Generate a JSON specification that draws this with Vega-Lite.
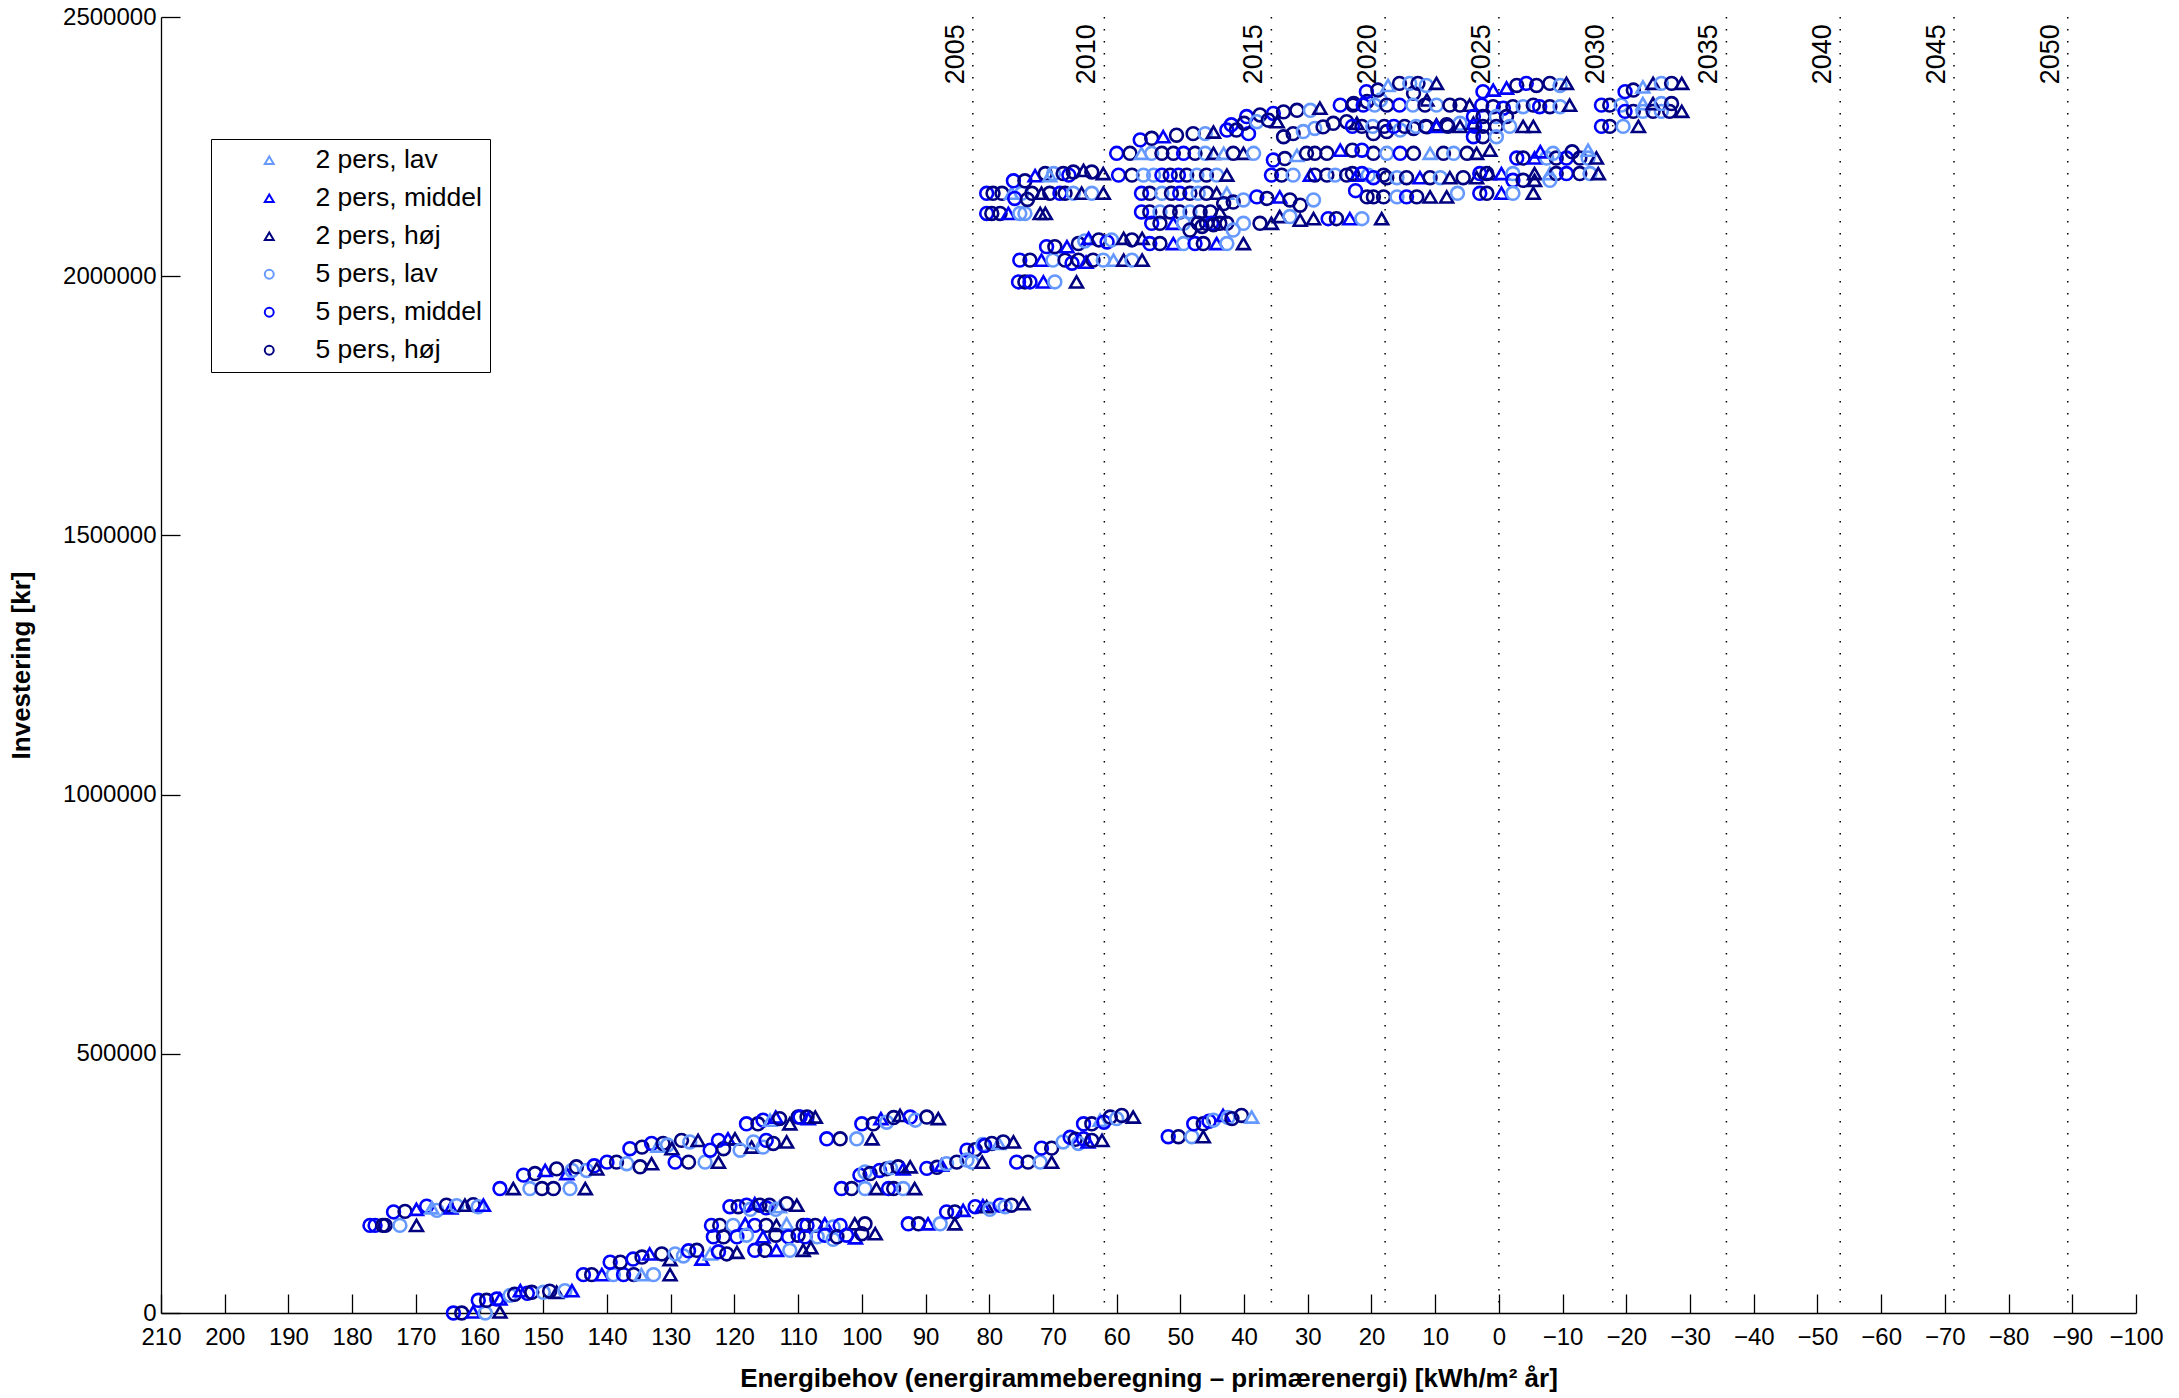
{
  "$schema": "https://vega.github.io/schema/vega-lite/v6.json",
  "width": 1975,
  "height": 1296,
  "autosize": {"type": "none"},
  "padding": {"left": 161, "top": 17, "right": 43, "bottom": 85},
  "background": "white",
  "config": {
    "view": {"stroke": null},
    "axis": {
      "domainColor": "black", "domainWidth": 1.3, "tickColor": "black", "tickWidth": 1.3, "tickSize": -19,
      "grid": false, "labelColor": "black", "titleColor": "black",
      "labelFont": "Liberation Sans", "labelFontSize": 24,
      "titleFont": "Liberation Sans", "titleFontSize": 26, "titleFontWeight": "bold",
      "labelOverlap": false, "labelFlush": false
    }
  },
  "datasets": {
    "years": [
      {"year": "2005", "x": 82.57}, {"year": "2010", "x": 61.93}, {"year": "2015", "x": 35.71},
      {"year": "2020", "x": 17.86}, {"year": "2025", "x": 0}, {"year": "2030", "x": -17.86},
      {"year": "2035", "x": -35.71}, {"year": "2040", "x": -53.57}, {"year": "2045", "x": -71.43},
      {"year": "2050", "x": -89.29}
    ],
    "pts": [
      {"x":177.2,"y":169000,"s":"5 pers, middel"},{"x":176.4,"y":169000,"s":"5 pers, middel"},{"x":175.2,"y":169000,"s":"5 pers, høj"},{"x":174.8,"y":169000,"s":"5 pers, høj"},{"x":172.5,"y":169000,"s":"5 pers, lav"},{"x":169.9,"y":169000,"s":"2 pers, høj"},
      {"x":173.5,"y":195000,"s":"5 pers, middel"},{"x":171.7,"y":196000,"s":"5 pers, høj"},{"x":169.9,"y":200000,"s":"2 pers, middel"},{"x":168.3,"y":206000,"s":"5 pers, middel"},{"x":167.5,"y":203000,"s":"2 pers, lav"},{"x":166.7,"y":198000,"s":"5 pers, lav"},{"x":165.2,"y":208000,"s":"5 pers, høj"},{"x":164.5,"y":203000,"s":"2 pers, middel"},{"x":163.6,"y":207000,"s":"5 pers, lav"},{"x":162.3,"y":208000,"s":"2 pers, høj"},{"x":161.0,"y":209000,"s":"5 pers, høj"},{"x":160.2,"y":205000,"s":"5 pers, lav"},{"x":159.4,"y":208000,"s":"2 pers, middel"},
      {"x":164.1,"y":0,"s":"5 pers, middel"},{"x":162.8,"y":0,"s":"5 pers, høj"},{"x":161.0,"y":2000,"s":"2 pers, middel"},{"x":159.1,"y":0,"s":"5 pers, lav"},{"x":156.8,"y":2000,"s":"2 pers, høj"},
      {"x":160.2,"y":24500,"s":"5 pers, middel"},{"x":158.9,"y":24500,"s":"5 pers, høj"},{"x":157.3,"y":27000,"s":"5 pers, middel"},{"x":156.8,"y":27000,"s":"2 pers, middel"},{"x":155.2,"y":34000,"s":"5 pers, lav"},{"x":154.5,"y":36000,"s":"5 pers, høj"},{"x":153.6,"y":43000,"s":"2 pers, middel"},{"x":152.5,"y":38000,"s":"5 pers, middel"},{"x":151.8,"y":40000,"s":"5 pers, høj"},{"x":150.0,"y":40000,"s":"5 pers, lav"},{"x":149.0,"y":42000,"s":"5 pers, høj"},{"x":147.9,"y":40000,"s":"2 pers, høj"},{"x":146.6,"y":43000,"s":"5 pers, lav"},{"x":145.5,"y":43000,"s":"2 pers, middel"},
      {"x":143.7,"y":74000,"s":"5 pers, middel"},{"x":142.4,"y":74000,"s":"5 pers, høj"},{"x":140.8,"y":74000,"s":"2 pers, middel"},{"x":139.0,"y":74000,"s":"5 pers, lav"},{"x":137.4,"y":74000,"s":"5 pers, middel"},{"x":135.8,"y":74000,"s":"5 pers, høj"},{"x":134.6,"y":74000,"s":"2 pers, lav"},{"x":132.7,"y":74000,"s":"5 pers, lav"},{"x":130.1,"y":74000,"s":"2 pers, høj"},
      {"x":139.5,"y":98000,"s":"5 pers, middel"},{"x":137.9,"y":98000,"s":"5 pers, høj"},{"x":135.9,"y":104000,"s":"5 pers, middel"},{"x":134.5,"y":108000,"s":"5 pers, høj"},{"x":133.3,"y":114000,"s":"2 pers, middel"},{"x":131.4,"y":114000,"s":"5 pers, høj"},{"x":130.1,"y":103000,"s":"2 pers, høj"},{"x":129.3,"y":114000,"s":"5 pers, lav"},{"x":128.0,"y":110000,"s":"5 pers, lav"},{"x":127.2,"y":120000,"s":"5 pers, middel"},{"x":125.9,"y":121000,"s":"5 pers, høj"},{"x":125.1,"y":104000,"s":"2 pers, middel"},{"x":123.8,"y":114000,"s":"2 pers, lav"},{"x":122.5,"y":118000,"s":"5 pers, middel"},{"x":121.2,"y":114000,"s":"5 pers, høj"},{"x":119.6,"y":117000,"s":"2 pers, høj"},
      {"x":156.8,"y":240000,"s":"5 pers, middel"},{"x":154.7,"y":240000,"s":"2 pers, høj"},{"x":152.1,"y":240000,"s":"5 pers, lav"},{"x":150.2,"y":240000,"s":"5 pers, høj"},{"x":148.4,"y":240000,"s":"5 pers, høj"},{"x":145.8,"y":240000,"s":"5 pers, lav"},{"x":143.4,"y":240000,"s":"2 pers, høj"},
      {"x":153.1,"y":266000,"s":"5 pers, middel"},{"x":151.3,"y":269000,"s":"5 pers, høj"},{"x":149.7,"y":275000,"s":"2 pers, middel"},{"x":147.9,"y":278000,"s":"5 pers, høj"},{"x":146.3,"y":269000,"s":"2 pers, middel"},{"x":145.5,"y":275000,"s":"5 pers, lav"},{"x":144.8,"y":282000,"s":"5 pers, høj"},{"x":143.2,"y":275000,"s":"5 pers, lav"},{"x":142.0,"y":284000,"s":"5 pers, middel"},{"x":141.6,"y":278000,"s":"2 pers, høj"},{"x":140.0,"y":291000,"s":"5 pers, middel"},{"x":138.5,"y":291000,"s":"5 pers, høj"},{"x":136.9,"y":288000,"s":"5 pers, lav"},{"x":134.8,"y":282000,"s":"5 pers, høj"},{"x":133.0,"y":288000,"s":"2 pers, høj"},
      {"x":136.4,"y":317000,"s":"5 pers, middel"},{"x":134.5,"y":320000,"s":"5 pers, høj"},{"x":133.0,"y":327000,"s":"5 pers, middel"},{"x":132.0,"y":322000,"s":"2 pers, lav"},{"x":131.2,"y":327000,"s":"5 pers, høj"},{"x":130.5,"y":324000,"s":"5 pers, lav"},{"x":129.8,"y":317000,"s":"2 pers, høj"},{"x":128.3,"y":333000,"s":"5 pers, høj"},{"x":127.0,"y":330000,"s":"5 pers, lav"},{"x":125.7,"y":333000,"s":"2 pers, høj"},
      {"x":129.3,"y":291000,"s":"5 pers, middel"},{"x":127.2,"y":291000,"s":"5 pers, høj"},{"x":124.6,"y":291000,"s":"5 pers, lav"},{"x":122.5,"y":291000,"s":"2 pers, høj"},
      {"x":123.8,"y":314000,"s":"5 pers, middel"},{"x":122.5,"y":333000,"s":"5 pers, middel"},{"x":121.7,"y":317000,"s":"5 pers, høj"},{"x":121.0,"y":336000,"s":"2 pers, middel"},{"x":119.9,"y":336000,"s":"2 pers, høj"},{"x":119.1,"y":314000,"s":"5 pers, lav"},{"x":117.3,"y":320000,"s":"2 pers, høj"},{"x":117.0,"y":330000,"s":"5 pers, lav"},{"x":115.5,"y":320000,"s":"5 pers, lav"},{"x":115.0,"y":333000,"s":"5 pers, middel"},{"x":113.9,"y":327000,"s":"5 pers, høj"},{"x":111.8,"y":330000,"s":"2 pers, høj"},
      {"x":118.1,"y":365000,"s":"5 pers, middel"},{"x":116.3,"y":365000,"s":"5 pers, høj"},{"x":115.5,"y":372000,"s":"5 pers, middel"},{"x":114.4,"y":372000,"s":"2 pers, lav"},{"x":113.5,"y":378000,"s":"2 pers, middel"},{"x":112.9,"y":375000,"s":"5 pers, høj"},{"x":111.3,"y":365000,"s":"2 pers, høj"},{"x":110.0,"y":378000,"s":"5 pers, høj"},{"x":109.7,"y":378000,"s":"5 pers, middel"},{"x":108.6,"y":378000,"s":"5 pers, høj"},{"x":108.4,"y":375000,"s":"2 pers, middel"},{"x":107.3,"y":378000,"s":"2 pers, høj"},
      {"x":105.5,"y":336000,"s":"5 pers, middel"},{"x":103.4,"y":336000,"s":"5 pers, høj"},{"x":100.8,"y":336000,"s":"5 pers, lav"},{"x":98.4,"y":336000,"s":"2 pers, høj"},
      {"x":100.0,"y":365000,"s":"5 pers, middel"},{"x":98.2,"y":365000,"s":"5 pers, høj"},{"x":97.0,"y":375000,"s":"2 pers, middel"},{"x":96.1,"y":368000,"s":"5 pers, lav"},{"x":95.0,"y":377000,"s":"5 pers, høj"},{"x":94.0,"y":381000,"s":"2 pers, høj"},{"x":92.4,"y":378000,"s":"5 pers, middel"},{"x":91.6,"y":372000,"s":"5 pers, lav"},{"x":89.8,"y":378000,"s":"5 pers, høj"},{"x":88.0,"y":375000,"s":"2 pers, høj"},
      {"x":83.5,"y":314000,"s":"5 pers, middel"},{"x":82.2,"y":315000,"s":"5 pers, høj"},{"x":81.0,"y":325000,"s":"5 pers, lav"},{"x":80.7,"y":323000,"s":"5 pers, middel"},{"x":79.6,"y":327000,"s":"5 pers, høj"},{"x":78.5,"y":327000,"s":"2 pers, lav"},{"x":77.8,"y":330000,"s":"5 pers, høj"},{"x":76.2,"y":330000,"s":"2 pers, høj"},
      {"x":82.7,"y":291000,"s":"5 pers, lav"},{"x":81.1,"y":291000,"s":"2 pers, høj"},{"x":75.7,"y":291000,"s":"5 pers, middel"},{"x":73.9,"y":291000,"s":"5 pers, høj"},{"x":72.0,"y":291000,"s":"5 pers, lav"},{"x":70.2,"y":291000,"s":"2 pers, høj"},
      {"x":89.8,"y":279000,"s":"5 pers, middel"},{"x":88.2,"y":281000,"s":"5 pers, høj"},{"x":87.5,"y":285000,"s":"2 pers, middel"},{"x":86.7,"y":288000,"s":"5 pers, lav"},{"x":85.1,"y":291000,"s":"5 pers, høj"},{"x":83.5,"y":295000,"s":"5 pers, lav"},
      {"x":100.3,"y":266000,"s":"5 pers, middel"},{"x":99.5,"y":272000,"s":"5 pers, lav"},{"x":98.7,"y":269000,"s":"5 pers, høj"},{"x":97.2,"y":275000,"s":"5 pers, middel"},{"x":96.1,"y":278000,"s":"5 pers, høj"},{"x":95.5,"y":280000,"s":"5 pers, lav"},{"x":94.3,"y":282000,"s":"5 pers, høj"},{"x":93.5,"y":278000,"s":"2 pers, middel"},{"x":92.4,"y":282000,"s":"2 pers, høj"},
      {"x":103.2,"y":240000,"s":"5 pers, middel"},{"x":101.6,"y":240000,"s":"5 pers, høj"},{"x":99.5,"y":240000,"s":"5 pers, lav"},{"x":97.7,"y":240000,"s":"2 pers, høj"},{"x":95.8,"y":240000,"s":"5 pers, middel"},{"x":95.0,"y":240000,"s":"5 pers, høj"},{"x":93.5,"y":240000,"s":"5 pers, lav"},{"x":91.7,"y":240000,"s":"2 pers, høj"},
      {"x":71.8,"y":318000,"s":"5 pers, middel"},{"x":70.2,"y":318000,"s":"5 pers, høj"},
      {"x":68.4,"y":330000,"s":"5 pers, lav"},{"x":67.3,"y":339000,"s":"5 pers, middel"},{"x":66.5,"y":335000,"s":"5 pers, høj"},{"x":66.0,"y":327000,"s":"5 pers, lav"},{"x":65.2,"y":336000,"s":"5 pers, middel"},{"x":64.5,"y":330000,"s":"2 pers, middel"},{"x":63.9,"y":333000,"s":"5 pers, høj"},{"x":62.3,"y":333000,"s":"2 pers, høj"},
      {"x":65.2,"y":365000,"s":"5 pers, middel"},{"x":63.9,"y":365000,"s":"5 pers, høj"},{"x":62.6,"y":372000,"s":"2 pers, lav"},{"x":62.0,"y":368000,"s":"5 pers, middel"},{"x":61.0,"y":378000,"s":"5 pers, høj"},{"x":60.0,"y":375000,"s":"5 pers, lav"},{"x":59.2,"y":381000,"s":"5 pers, høj"},{"x":57.4,"y":378000,"s":"2 pers, høj"},
      {"x":51.9,"y":340000,"s":"5 pers, middel"},{"x":50.3,"y":340000,"s":"5 pers, høj"},{"x":48.2,"y":340000,"s":"5 pers, lav"},{"x":46.4,"y":340000,"s":"2 pers, høj"},
      {"x":47.9,"y":365000,"s":"5 pers, middel"},{"x":46.4,"y":365000,"s":"5 pers, høj"},{"x":45.5,"y":370000,"s":"5 pers, middel"},{"x":44.8,"y":372000,"s":"5 pers, lav"},{"x":43.3,"y":381000,"s":"2 pers, middel"},{"x":42.5,"y":377000,"s":"5 pers, lav"},{"x":41.9,"y":375000,"s":"5 pers, høj"},{"x":40.4,"y":381000,"s":"5 pers, høj"},{"x":38.8,"y":378000,"s":"2 pers, lav"},
      {"x":92.7,"y":172000,"s":"5 pers, middel"},{"x":91.1,"y":172000,"s":"5 pers, høj"},{"x":89.6,"y":172000,"s":"2 pers, middel"},{"x":87.7,"y":172000,"s":"5 pers, lav"},{"x":85.4,"y":172000,"s":"2 pers, høj"},
      {"x":86.7,"y":195000,"s":"5 pers, middel"},{"x":85.4,"y":195000,"s":"5 pers, høj"},{"x":84.1,"y":198000,"s":"2 pers, middel"},{"x":82.2,"y":205000,"s":"5 pers, middel"},{"x":81.0,"y":207000,"s":"2 pers, middel"},{"x":80.4,"y":205000,"s":"2 pers, høj"},{"x":79.9,"y":200000,"s":"5 pers, lav"},{"x":78.3,"y":208000,"s":"5 pers, middel"},{"x":77.5,"y":205000,"s":"5 pers, lav"},{"x":76.5,"y":208000,"s":"5 pers, høj"},{"x":74.7,"y":211000,"s":"2 pers, høj"},
      {"x":120.7,"y":205000,"s":"5 pers, middel"},{"x":119.4,"y":205000,"s":"5 pers, høj"},{"x":118.1,"y":208000,"s":"5 pers, middel"},{"x":117.5,"y":200000,"s":"5 pers, lav"},{"x":116.8,"y":211000,"s":"2 pers, middel"},{"x":116.0,"y":208000,"s":"5 pers, høj"},{"x":115.0,"y":203000,"s":"5 pers, middel"},{"x":114.5,"y":208000,"s":"5 pers, høj"},{"x":113.5,"y":200000,"s":"5 pers, lav"},{"x":112.9,"y":205000,"s":"2 pers, lav"},{"x":111.8,"y":211000,"s":"5 pers, høj"},{"x":110.2,"y":208000,"s":"2 pers, høj"},
      {"x":123.6,"y":169000,"s":"5 pers, middel"},{"x":122.3,"y":169000,"s":"5 pers, høj"},{"x":120.2,"y":169000,"s":"5 pers, lav"},{"x":118.3,"y":172000,"s":"2 pers, middel"},{"x":116.8,"y":169000,"s":"5 pers, middel"},{"x":115.0,"y":169000,"s":"5 pers, høj"},{"x":113.4,"y":169000,"s":"2 pers, høj"},{"x":111.8,"y":172000,"s":"2 pers, lav"},{"x":109.2,"y":169000,"s":"5 pers, høj"},{"x":108.6,"y":169000,"s":"5 pers, middel"},{"x":107.3,"y":169000,"s":"5 pers, høj"},{"x":105.8,"y":172000,"s":"2 pers, middel"},{"x":104.5,"y":166000,"s":"5 pers, lav"},{"x":103.4,"y":169000,"s":"5 pers, middel"},{"x":101.1,"y":172000,"s":"2 pers, høj"},{"x":99.5,"y":172000,"s":"5 pers, høj"},
      {"x":123.3,"y":147000,"s":"5 pers, middel"},{"x":121.7,"y":147000,"s":"5 pers, høj"},{"x":119.6,"y":147000,"s":"5 pers, middel"},{"x":118.1,"y":150000,"s":"5 pers, lav"},{"x":115.5,"y":147000,"s":"2 pers, middel"},{"x":113.5,"y":150000,"s":"5 pers, høj"},{"x":111.5,"y":147000,"s":"5 pers, middel"},{"x":110.0,"y":150000,"s":"5 pers, høj"},{"x":108.9,"y":147000,"s":"5 pers, middel"},{"x":107.0,"y":147000,"s":"5 pers, lav"},{"x":105.8,"y":150000,"s":"5 pers, middel"},{"x":104.5,"y":142000,"s":"5 pers, lav"},{"x":103.9,"y":147000,"s":"5 pers, høj"},{"x":102.4,"y":150000,"s":"5 pers, middel"},{"x":101.0,"y":145000,"s":"2 pers, middel"},{"x":100.0,"y":153000,"s":"5 pers, høj"},{"x":97.9,"y":153000,"s":"2 pers, høj"},
      {"x":116.8,"y":121000,"s":"5 pers, middel"},{"x":115.2,"y":121000,"s":"5 pers, høj"},{"x":113.4,"y":121000,"s":"2 pers, middel"},{"x":111.3,"y":121000,"s":"5 pers, lav"},{"x":109.2,"y":121000,"s":"2 pers, høj"},{"x":108.0,"y":126000,"s":"2 pers, høj"},
      {"x":80.4,"y":2121000,"s":"5 pers, middel"},{"x":79.6,"y":2121000,"s":"5 pers, høj"},{"x":78.3,"y":2121000,"s":"5 pers, høj"},{"x":77.0,"y":2121000,"s":"2 pers, middel"},{"x":75.2,"y":2121000,"s":"5 pers, lav"},{"x":74.4,"y":2121000,"s":"5 pers, lav"},{"x":72.0,"y":2121000,"s":"2 pers, høj"},{"x":71.2,"y":2121000,"s":"2 pers, høj"},
      {"x":80.4,"y":2160000,"s":"5 pers, middel"},{"x":79.4,"y":2160000,"s":"5 pers, høj"},{"x":78.0,"y":2160000,"s":"5 pers, høj"},{"x":76.5,"y":2160000,"s":"2 pers, lav"},{"x":74.9,"y":2160000,"s":"5 pers, lav"},{"x":73.3,"y":2160000,"s":"5 pers, høj"},{"x":71.8,"y":2160000,"s":"2 pers, høj"},{"x":70.5,"y":2160000,"s":"5 pers, høj"},{"x":68.9,"y":2160000,"s":"5 pers, middel"},{"x":68.1,"y":2160000,"s":"5 pers, høj"},{"x":66.8,"y":2160000,"s":"5 pers, lav"},{"x":65.5,"y":2160000,"s":"2 pers, høj"},{"x":63.9,"y":2160000,"s":"5 pers, lav"},{"x":62.1,"y":2160000,"s":"2 pers, høj"},{"x":76.0,"y":2150000,"s":"5 pers, middel"},{"x":74.0,"y":2148000,"s":"5 pers, høj"},
      {"x":76.2,"y":2184000,"s":"5 pers, middel"},{"x":74.4,"y":2184000,"s":"5 pers, høj"},{"x":72.8,"y":2194000,"s":"2 pers, middel"},{"x":71.2,"y":2198000,"s":"5 pers, høj"},{"x":70.5,"y":2194000,"s":"2 pers, lav"},{"x":69.9,"y":2198000,"s":"5 pers, lav"},{"x":68.4,"y":2198000,"s":"5 pers, høj"},{"x":67.5,"y":2195000,"s":"5 pers, middel"},{"x":66.8,"y":2201000,"s":"5 pers, høj"},{"x":65.2,"y":2204000,"s":"2 pers, høj"},{"x":63.9,"y":2201000,"s":"5 pers, høj"},{"x":62.1,"y":2198000,"s":"2 pers, høj"},
      {"x":75.4,"y":1989000,"s":"5 pers, middel"},{"x":74.4,"y":1989000,"s":"5 pers, høj"},{"x":73.6,"y":1989000,"s":"5 pers, middel"},{"x":71.5,"y":1989000,"s":"2 pers, middel"},{"x":69.7,"y":1989000,"s":"5 pers, lav"},{"x":66.3,"y":1989000,"s":"2 pers, høj"},
      {"x":75.2,"y":2031000,"s":"5 pers, middel"},{"x":73.6,"y":2031000,"s":"5 pers, høj"},{"x":71.8,"y":2031000,"s":"2 pers, middel"},{"x":70.0,"y":2031000,"s":"5 pers, lav"},{"x":68.1,"y":2031000,"s":"5 pers, høj"},{"x":67.0,"y":2025000,"s":"5 pers, middel"},{"x":66.0,"y":2031000,"s":"5 pers, høj"},{"x":64.8,"y":2027000,"s":"2 pers, middel"},{"x":63.7,"y":2031000,"s":"5 pers, høj"},{"x":62.1,"y":2031000,"s":"5 pers, lav"},{"x":60.5,"y":2031000,"s":"2 pers, lav"},{"x":58.9,"y":2031000,"s":"2 pers, høj"},{"x":57.6,"y":2031000,"s":"5 pers, lav"},{"x":56.0,"y":2031000,"s":"2 pers, høj"},
      {"x":71.0,"y":2057000,"s":"5 pers, middel"},{"x":69.7,"y":2057000,"s":"5 pers, høj"},{"x":67.8,"y":2057000,"s":"2 pers, middel"},{"x":66.0,"y":2063000,"s":"5 pers, høj"},{"x":65.0,"y":2068000,"s":"5 pers, lav"},{"x":64.4,"y":2073000,"s":"2 pers, middel"},{"x":62.8,"y":2070000,"s":"5 pers, høj"},{"x":61.5,"y":2066000,"s":"5 pers, middel"},{"x":60.8,"y":2070000,"s":"5 pers, lav"},{"x":58.9,"y":2073000,"s":"2 pers, høj"},{"x":57.6,"y":2070000,"s":"5 pers, høj"},{"x":56.0,"y":2073000,"s":"2 pers, høj"},
      {"x":60.0,"y":2237000,"s":"5 pers, middel"},{"x":57.9,"y":2237000,"s":"5 pers, høj"},{"x":56.1,"y":2237000,"s":"2 pers, lav"},{"x":54.5,"y":2237000,"s":"5 pers, lav"},{"x":52.9,"y":2237000,"s":"5 pers, høj"},{"x":51.1,"y":2237000,"s":"5 pers, høj"},{"x":49.5,"y":2237000,"s":"5 pers, middel"},{"x":47.7,"y":2237000,"s":"5 pers, høj"},{"x":46.1,"y":2237000,"s":"5 pers, lav"},{"x":44.8,"y":2237000,"s":"2 pers, høj"},{"x":43.2,"y":2237000,"s":"2 pers, lav"},{"x":41.7,"y":2237000,"s":"5 pers, høj"},{"x":40.1,"y":2237000,"s":"2 pers, høj"},{"x":38.5,"y":2237000,"s":"5 pers, lav"},
      {"x":59.7,"y":2195000,"s":"5 pers, middel"},{"x":57.6,"y":2195000,"s":"5 pers, høj"},{"x":55.8,"y":2195000,"s":"5 pers, lav"},{"x":54.2,"y":2195000,"s":"5 pers, lav"},{"x":52.9,"y":2195000,"s":"5 pers, middel"},{"x":51.6,"y":2195000,"s":"5 pers, høj"},{"x":50.3,"y":2195000,"s":"5 pers, middel"},{"x":49.0,"y":2195000,"s":"5 pers, høj"},{"x":47.4,"y":2195000,"s":"5 pers, lav"},{"x":45.9,"y":2195000,"s":"5 pers, høj"},{"x":44.3,"y":2195000,"s":"5 pers, lav"},{"x":42.7,"y":2195000,"s":"2 pers, høj"},
      {"x":56.3,"y":2263000,"s":"5 pers, middel"},{"x":54.5,"y":2266000,"s":"5 pers, høj"},{"x":52.7,"y":2269000,"s":"2 pers, middel"},{"x":50.6,"y":2272000,"s":"5 pers, høj"},{"x":48.0,"y":2275000,"s":"5 pers, høj"},{"x":46.1,"y":2275000,"s":"5 pers, lav"},{"x":44.8,"y":2278000,"s":"2 pers, høj"},{"x":42.7,"y":2282000,"s":"5 pers, middel"},{"x":41.2,"y":2282000,"s":"5 pers, høj"},{"x":39.3,"y":2275000,"s":"5 pers, middel"},
      {"x":56.1,"y":2160000,"s":"5 pers, middel"},{"x":54.8,"y":2160000,"s":"5 pers, høj"},{"x":52.9,"y":2160000,"s":"5 pers, lav"},{"x":51.4,"y":2160000,"s":"5 pers, høj"},{"x":50.1,"y":2160000,"s":"5 pers, middel"},{"x":48.5,"y":2160000,"s":"5 pers, høj"},{"x":47.2,"y":2160000,"s":"5 pers, lav"},{"x":45.9,"y":2160000,"s":"5 pers, høj"},{"x":44.3,"y":2160000,"s":"2 pers, høj"},{"x":42.7,"y":2160000,"s":"2 pers, lav"},
      {"x":56.1,"y":2124000,"s":"5 pers, middel"},{"x":54.8,"y":2124000,"s":"5 pers, høj"},{"x":53.2,"y":2124000,"s":"5 pers, lav"},{"x":51.6,"y":2124000,"s":"5 pers, høj"},{"x":50.1,"y":2124000,"s":"5 pers, høj"},{"x":48.5,"y":2124000,"s":"5 pers, lav"},{"x":46.9,"y":2124000,"s":"5 pers, høj"},{"x":45.3,"y":2124000,"s":"5 pers, høj"},{"x":43.8,"y":2124000,"s":"2 pers, høj"},
      {"x":54.5,"y":2102000,"s":"5 pers, middel"},{"x":53.2,"y":2102000,"s":"5 pers, høj"},{"x":51.1,"y":2102000,"s":"2 pers, middel"},{"x":49.5,"y":2102000,"s":"5 pers, lav"},{"x":47.2,"y":2102000,"s":"5 pers, høj"},{"x":45.9,"y":2102000,"s":"5 pers, høj"},{"x":45.1,"y":2102000,"s":"5 pers, middel"},{"x":43.8,"y":2102000,"s":"5 pers, høj"},
      {"x":54.8,"y":2063000,"s":"5 pers, middel"},{"x":53.2,"y":2063000,"s":"5 pers, høj"},{"x":51.1,"y":2063000,"s":"2 pers, middel"},{"x":49.5,"y":2063000,"s":"5 pers, lav"},{"x":47.7,"y":2063000,"s":"5 pers, middel"},{"x":46.4,"y":2063000,"s":"5 pers, høj"},{"x":44.3,"y":2063000,"s":"2 pers, middel"},{"x":42.7,"y":2063000,"s":"5 pers, lav"},{"x":40.1,"y":2063000,"s":"2 pers, høj"},
      {"x":48.5,"y":2089000,"s":"5 pers, høj"},{"x":46.6,"y":2096000,"s":"5 pers, høj"},{"x":44.8,"y":2099000,"s":"5 pers, høj"},{"x":42.7,"y":2102000,"s":"5 pers, høj"},{"x":41.7,"y":2089000,"s":"5 pers, lav"},{"x":40.1,"y":2102000,"s":"5 pers, lav"},{"x":37.5,"y":2102000,"s":"5 pers, høj"},{"x":35.7,"y":2102000,"s":"2 pers, høj"},{"x":34.4,"y":2115000,"s":"2 pers, høj"},{"x":32.8,"y":2115000,"s":"5 pers, lav"},{"x":31.2,"y":2108000,"s":"2 pers, høj"},{"x":29.1,"y":2111000,"s":"2 pers, høj"},
      {"x":43.2,"y":2140000,"s":"5 pers, høj"},{"x":41.7,"y":2143000,"s":"5 pers, høj"},{"x":40.1,"y":2147000,"s":"5 pers, lav"},{"x":38.0,"y":2153000,"s":"5 pers, middel"},{"x":36.4,"y":2150000,"s":"5 pers, høj"},{"x":34.4,"y":2153000,"s":"2 pers, middel"},{"x":32.8,"y":2147000,"s":"5 pers, høj"},{"x":31.2,"y":2137000,"s":"5 pers, høj"},{"x":29.1,"y":2147000,"s":"5 pers, lav"},
      {"x":26.8,"y":2111000,"s":"5 pers, middel"},{"x":25.5,"y":2111000,"s":"5 pers, høj"},{"x":23.4,"y":2111000,"s":"2 pers, middel"},{"x":21.5,"y":2111000,"s":"5 pers, lav"},{"x":18.4,"y":2111000,"s":"2 pers, høj"},
      {"x":35.7,"y":2195000,"s":"5 pers, middel"},{"x":34.1,"y":2195000,"s":"5 pers, høj"},{"x":32.3,"y":2195000,"s":"5 pers, lav"},{"x":29.6,"y":2195000,"s":"2 pers, middel"},{"x":28.9,"y":2195000,"s":"5 pers, høj"},{"x":27.0,"y":2195000,"s":"5 pers, høj"},{"x":25.7,"y":2195000,"s":"5 pers, lav"},{"x":23.9,"y":2195000,"s":"5 pers, høj"},{"x":22.3,"y":2195000,"s":"2 pers, middel"},{"x":20.5,"y":2195000,"s":"5 pers, lav"},{"x":18.1,"y":2195000,"s":"5 pers, høj"},
      {"x":35.4,"y":2224000,"s":"5 pers, middel"},{"x":33.6,"y":2227000,"s":"5 pers, høj"},{"x":31.7,"y":2233000,"s":"2 pers, lav"},{"x":30.2,"y":2237000,"s":"5 pers, høj"},{"x":28.9,"y":2237000,"s":"5 pers, høj"},{"x":27.0,"y":2237000,"s":"5 pers, høj"},{"x":24.9,"y":2243000,"s":"2 pers, middel"},
      {"x":33.8,"y":2269000,"s":"5 pers, høj"},{"x":32.3,"y":2275000,"s":"5 pers, høj"},{"x":30.7,"y":2279000,"s":"5 pers, lav"},{"x":28.9,"y":2285000,"s":"5 pers, lav"},{"x":27.6,"y":2288000,"s":"5 pers, høj"},{"x":26.0,"y":2295000,"s":"5 pers, høj"},{"x":23.9,"y":2298000,"s":"5 pers, høj"},{"x":22.3,"y":2295000,"s":"2 pers, høj"},
      {"x":39.6,"y":2308000,"s":"5 pers, middel"},{"x":37.5,"y":2311000,"s":"5 pers, høj"},{"x":35.4,"y":2314000,"s":"5 pers, middel"},{"x":33.8,"y":2317000,"s":"5 pers, høj"},{"x":31.7,"y":2320000,"s":"5 pers, høj"},{"x":29.6,"y":2320000,"s":"5 pers, lav"},{"x":28.1,"y":2324000,"s":"2 pers, høj"},
      {"x":24.9,"y":2330000,"s":"5 pers, middel"},{"x":22.8,"y":2333000,"s":"5 pers, høj"},{"x":20.7,"y":2337000,"s":"5 pers, høj"},{"x":18.6,"y":2340000,"s":"5 pers, lav"},{"x":13.4,"y":2353000,"s":"5 pers, høj"},{"x":11.3,"y":2340000,"s":"2 pers, høj"},
      {"x":42.0,"y":2292000,"s":"5 pers, middel"},{"x":40.0,"y":2295000,"s":"5 pers, høj"},{"x":38.0,"y":2298000,"s":"5 pers, lav"},{"x":36.2,"y":2301000,"s":"5 pers, høj"},{"x":34.8,"y":2298000,"s":"2 pers, høj"},
      {"x":19.7,"y":2237000,"s":"5 pers, høj"},{"x":17.6,"y":2237000,"s":"5 pers, lav"},{"x":15.5,"y":2237000,"s":"5 pers, middel"},{"x":13.4,"y":2237000,"s":"5 pers, høj"},{"x":10.8,"y":2237000,"s":"2 pers, lav"},{"x":8.7,"y":2237000,"s":"5 pers, høj"},{"x":7.1,"y":2237000,"s":"5 pers, lav"},{"x":5.0,"y":2237000,"s":"5 pers, høj"},{"x":3.5,"y":2237000,"s":"2 pers, høj"},{"x":23.0,"y":2243000,"s":"5 pers, høj"},{"x":21.5,"y":2243000,"s":"5 pers, middel"},{"x":1.4,"y":2243000,"s":"2 pers, høj"},
      {"x":19.7,"y":2190000,"s":"5 pers, middel"},{"x":17.6,"y":2190000,"s":"5 pers, høj"},{"x":16.0,"y":2190000,"s":"5 pers, lav"},{"x":14.5,"y":2190000,"s":"5 pers, høj"},{"x":12.4,"y":2190000,"s":"2 pers, middel"},{"x":10.8,"y":2190000,"s":"5 pers, høj"},{"x":9.2,"y":2190000,"s":"5 pers, lav"},{"x":7.7,"y":2190000,"s":"2 pers, høj"},{"x":5.6,"y":2190000,"s":"5 pers, høj"},{"x":3.5,"y":2190000,"s":"2 pers, høj"},{"x":23.0,"y":2198000,"s":"5 pers, høj"},{"x":21.5,"y":2198000,"s":"5 pers, middel"},{"x":1.5,"y":2198000,"s":"2 pers, høj"},
      {"x":20.7,"y":2153000,"s":"5 pers, høj"},{"x":19.7,"y":2153000,"s":"5 pers, høj"},{"x":18.1,"y":2153000,"s":"5 pers, høj"},{"x":16.0,"y":2153000,"s":"5 pers, lav"},{"x":14.5,"y":2153000,"s":"5 pers, middel"},{"x":12.9,"y":2153000,"s":"5 pers, høj"},{"x":10.8,"y":2153000,"s":"2 pers, høj"},{"x":8.2,"y":2153000,"s":"2 pers, høj"},{"x":22.5,"y":2165000,"s":"5 pers, middel"},{"x":6.5,"y":2160000,"s":"5 pers, lav"},
      {"x":19.7,"y":2275000,"s":"5 pers, høj"},{"x":17.6,"y":2279000,"s":"5 pers, høj"},{"x":15.5,"y":2282000,"s":"5 pers, lav"},{"x":13.4,"y":2285000,"s":"5 pers, høj"},{"x":11.3,"y":2288000,"s":"5 pers, høj"},{"x":9.8,"y":2292000,"s":"2 pers, høj"},{"x":8.2,"y":2292000,"s":"5 pers, høj"},{"x":6.1,"y":2295000,"s":"5 pers, lav"},{"x":4.0,"y":2295000,"s":"2 pers, høj"},
      {"x":20.8,"y":2356000,"s":"5 pers, middel"},{"x":19.0,"y":2359000,"s":"5 pers, høj"},{"x":17.4,"y":2368000,"s":"2 pers, lav"},{"x":15.6,"y":2372000,"s":"5 pers, høj"},{"x":14.0,"y":2372000,"s":"5 pers, lav"},{"x":12.7,"y":2372000,"s":"5 pers, høj"},{"x":11.4,"y":2368000,"s":"5 pers, lav"},{"x":9.8,"y":2372000,"s":"2 pers, høj"},
      {"x":22.9,"y":2330000,"s":"5 pers, høj"},{"x":21.3,"y":2330000,"s":"5 pers, middel"},{"x":19.5,"y":2330000,"s":"5 pers, lav"},{"x":17.6,"y":2330000,"s":"5 pers, høj"},{"x":15.6,"y":2330000,"s":"5 pers, middel"},{"x":13.5,"y":2330000,"s":"5 pers, lav"},{"x":11.6,"y":2330000,"s":"5 pers, høj"},{"x":9.8,"y":2330000,"s":"5 pers, lav"},{"x":7.7,"y":2330000,"s":"5 pers, høj"},{"x":6.1,"y":2330000,"s":"5 pers, høj"},{"x":4.6,"y":2330000,"s":"2 pers, høj"},
      {"x":23.0,"y":2289000,"s":"5 pers, middel"},{"x":21.5,"y":2289000,"s":"5 pers, høj"},{"x":19.8,"y":2289000,"s":"5 pers, lav"},{"x":18.0,"y":2289000,"s":"5 pers, høj"},{"x":16.5,"y":2289000,"s":"5 pers, middel"},{"x":14.8,"y":2289000,"s":"5 pers, høj"},{"x":13.0,"y":2289000,"s":"5 pers, lav"},{"x":11.5,"y":2289000,"s":"5 pers, høj"},{"x":9.8,"y":2289000,"s":"2 pers, middel"},{"x":8.0,"y":2289000,"s":"5 pers, høj"},{"x":6.1,"y":2289000,"s":"2 pers, høj"},
      {"x":2.5,"y":2356000,"s":"5 pers, middel"},{"x":0.9,"y":2359000,"s":"2 pers, middel"},{"x":-1.2,"y":2363000,"s":"2 pers, middel"},{"x":-2.8,"y":2368000,"s":"5 pers, høj"},{"x":-4.3,"y":2372000,"s":"5 pers, middel"},{"x":-5.9,"y":2368000,"s":"5 pers, høj"},{"x":-8.0,"y":2372000,"s":"5 pers, høj"},{"x":-9.6,"y":2368000,"s":"5 pers, lav"},{"x":-10.6,"y":2372000,"s":"2 pers, høj"},
      {"x":2.7,"y":2330000,"s":"5 pers, middel"},{"x":0.9,"y":2327000,"s":"5 pers, høj"},{"x":-0.7,"y":2324000,"s":"5 pers, middel"},{"x":-2.2,"y":2327000,"s":"5 pers, høj"},{"x":-3.8,"y":2327000,"s":"5 pers, lav"},{"x":-5.4,"y":2330000,"s":"5 pers, høj"},{"x":-6.4,"y":2327000,"s":"5 pers, middel"},{"x":-8.0,"y":2327000,"s":"5 pers, høj"},{"x":-9.6,"y":2327000,"s":"5 pers, lav"},{"x":-11.1,"y":2330000,"s":"2 pers, høj"},
      {"x":4.0,"y":2308000,"s":"5 pers, middel"},{"x":2.5,"y":2308000,"s":"5 pers, høj"},{"x":0.4,"y":2308000,"s":"5 pers, lav"},{"x":-1.2,"y":2308000,"s":"5 pers, høj"},
      {"x":3.8,"y":2289000,"s":"5 pers, middel"},{"x":2.5,"y":2289000,"s":"5 pers, høj"},{"x":0.4,"y":2289000,"s":"5 pers, høj"},{"x":-1.7,"y":2289000,"s":"5 pers, lav"},{"x":-3.8,"y":2289000,"s":"2 pers, høj"},{"x":-5.4,"y":2289000,"s":"2 pers, høj"},
      {"x":4.0,"y":2269000,"s":"5 pers, middel"},{"x":2.5,"y":2269000,"s":"5 pers, høj"},{"x":0.4,"y":2269000,"s":"5 pers, lav"},
      {"x":-2.8,"y":2228000,"s":"5 pers, middel"},{"x":-3.8,"y":2228000,"s":"5 pers, høj"},{"x":-5.6,"y":2228000,"s":"2 pers, middel"},{"x":-7.5,"y":2228000,"s":"5 pers, lav"},{"x":-9.0,"y":2228000,"s":"5 pers, høj"},{"x":-10.6,"y":2228000,"s":"5 pers, middel"},{"x":-12.7,"y":2228000,"s":"5 pers, høj"},{"x":-14.0,"y":2228000,"s":"5 pers, lav"},{"x":-15.3,"y":2228000,"s":"2 pers, høj"},{"x":-6.5,"y":2240000,"s":"2 pers, middel"},{"x":-8.5,"y":2237000,"s":"5 pers, lav"},{"x":-11.5,"y":2240000,"s":"5 pers, høj"},{"x":-14.0,"y":2243000,"s":"2 pers, lav"},
      {"x":3.0,"y":2198000,"s":"5 pers, middel"},{"x":1.9,"y":2198000,"s":"5 pers, høj"},{"x":-0.4,"y":2198000,"s":"2 pers, middel"},{"x":-2.2,"y":2198000,"s":"5 pers, lav"},{"x":-5.6,"y":2198000,"s":"2 pers, høj"},{"x":-8.0,"y":2198000,"s":"2 pers, lav"},{"x":-9.0,"y":2198000,"s":"5 pers, høj"},{"x":-10.6,"y":2198000,"s":"5 pers, middel"},{"x":-12.7,"y":2198000,"s":"5 pers, høj"},{"x":-14.3,"y":2198000,"s":"5 pers, lav"},{"x":-15.6,"y":2198000,"s":"2 pers, høj"},
      {"x":-2.2,"y":2185000,"s":"5 pers, middel"},{"x":-3.8,"y":2185000,"s":"5 pers, høj"},{"x":-5.6,"y":2185000,"s":"2 pers, høj"},{"x":-8.0,"y":2185000,"s":"5 pers, lav"},
      {"x":3.0,"y":2160000,"s":"5 pers, middel"},{"x":1.9,"y":2160000,"s":"5 pers, høj"},{"x":-0.4,"y":2160000,"s":"2 pers, middel"},{"x":-2.2,"y":2160000,"s":"5 pers, lav"},{"x":-5.4,"y":2160000,"s":"2 pers, høj"},
      {"x":-16.1,"y":2330000,"s":"5 pers, middel"},{"x":-17.4,"y":2330000,"s":"5 pers, høj"},{"x":-19.2,"y":2330000,"s":"5 pers, lav"},
      {"x":-16.1,"y":2289000,"s":"5 pers, middel"},{"x":-17.4,"y":2289000,"s":"5 pers, høj"},{"x":-19.5,"y":2289000,"s":"5 pers, lav"},{"x":-21.9,"y":2289000,"s":"2 pers, høj"},
      {"x":-19.8,"y":2356000,"s":"5 pers, middel"},{"x":-21.1,"y":2359000,"s":"5 pers, høj"},{"x":-22.6,"y":2365000,"s":"2 pers, lav"},{"x":-24.2,"y":2372000,"s":"2 pers, høj"},{"x":-25.5,"y":2372000,"s":"5 pers, lav"},{"x":-27.1,"y":2372000,"s":"5 pers, høj"},{"x":-28.7,"y":2372000,"s":"2 pers, høj"},
      {"x":-19.8,"y":2318000,"s":"5 pers, middel"},{"x":-21.1,"y":2318000,"s":"5 pers, høj"},{"x":-22.6,"y":2318000,"s":"5 pers, lav"},{"x":-24.2,"y":2318000,"s":"5 pers, høj"},{"x":-25.5,"y":2318000,"s":"5 pers, lav"},{"x":-26.8,"y":2318000,"s":"5 pers, høj"},{"x":-28.7,"y":2318000,"s":"2 pers, høj"},
      {"x":-22.6,"y":2333000,"s":"2 pers, lav"},{"x":-24.2,"y":2333000,"s":"2 pers, høj"},{"x":-25.5,"y":2333000,"s":"5 pers, lav"},{"x":-27.1,"y":2333000,"s":"5 pers, høj"}
    ]
  },
  "layer": [
    {
      "data": {"name": "years"},
      "mark": {"type": "rule", "color": "black", "strokeWidth": 1.5, "strokeDash": [1.5, 10.5]},
      "encoding": {
        "x": {"field": "x", "type": "quantitative", "title": "Energibehov (energirammeberegning – primærenergi) [kWh/m² år]"}
      }
    },
    {
      "data": {"name": "years"},
      "mark": {"type": "text", "angle": 270, "align": "right", "baseline": "bottom", "dy": -3, "font": "Liberation Sans", "fontSize": 27, "color": "black"},
      "encoding": {
        "x": {"field": "x", "type": "quantitative", "title": "Energibehov (energirammeberegning – primærenergi) [kWh/m² år]"},
        "y": {"datum": 2486000, "type": "quantitative", "title": "Investering [kr]"},
        "text": {"field": "year", "type": "nominal"}
      }
    },
    {
      "data": {"name": "pts"},
      "mark": {"type": "point", "filled": false, "size": 165, "strokeWidth": 2.6, "opacity": 1},
      "encoding": {
        "x": {
          "field": "x", "type": "quantitative",
          "scale": {"domain": [-100, 210], "reverse": true, "nice": false, "zero": false},
          "axis": {
            "title": "Energibehov (energirammeberegning – primærenergi) [kWh/m² år]",
            "values": [210,200,190,180,170,160,150,140,130,120,110,100,90,80,70,60,50,40,30,20,10,0,-10,-20,-30,-40,-50,-60,-70,-80,-90,-100],
            "format": "d", "labelPadding": 31, "titlePadding": 16
          }
        },
        "y": {
          "field": "y", "type": "quantitative",
          "scale": {"domain": [0, 2500000], "nice": false, "zero": true},
          "axis": {
            "title": "Investering [kr]",
            "values": [0, 500000, 1000000, 1500000, 2000000, 2500000],
            "format": "d", "labelPadding": 24, "titlePadding": 28
          }
        },
        "color": {
          "field": "s", "type": "nominal",
          "scale": {
            "domain": ["2 pers, lav", "2 pers, middel", "2 pers, høj", "5 pers, lav", "5 pers, middel", "5 pers, høj"],
            "range": ["#6699FF", "#0000FF", "#000080", "#6699FF", "#0000FF", "#000080"]
          },
          "legend": {
            "title": null, "orient": "none", "legendX": 50, "legendY": 122,
            "strokeColor": "black", "fillColor": "white", "padding": 8,
            "labelFont": "Liberation Sans", "labelFontSize": 26.5, "labelColor": "black", "labelLimit": 400,
            "symbolSize": 80, "symbolStrokeWidth": 2, "rowPadding": 11, "symbolOffset": 37, "labelOffset": 33
          }
        },
        "shape": {
          "field": "s", "type": "nominal",
          "scale": {
            "domain": ["2 pers, lav", "2 pers, middel", "2 pers, høj", "5 pers, lav", "5 pers, middel", "5 pers, høj"],
            "range": ["triangle-up", "triangle-up", "triangle-up", "circle", "circle", "circle"]
          },
          "legend": {
            "title": null, "orient": "none", "legendX": 50, "legendY": 122,
            "strokeColor": "black", "fillColor": "white", "padding": 8,
            "labelFont": "Liberation Sans", "labelFontSize": 26.5, "labelColor": "black", "labelLimit": 400,
            "symbolSize": 80, "symbolStrokeWidth": 2, "rowPadding": 11, "symbolOffset": 37, "labelOffset": 33
          }
        }
      }
    }
  ]
}
